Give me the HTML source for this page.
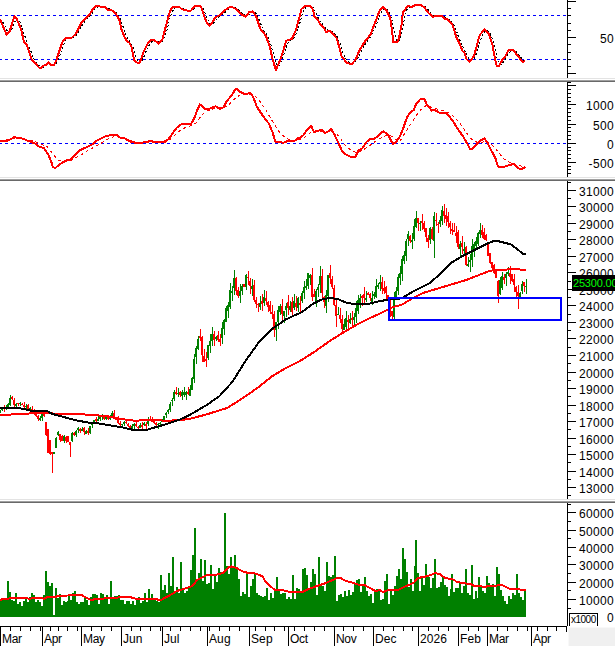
<!DOCTYPE html>
<html><head><meta charset="utf-8"><title>Chart</title>
<style>
html,body{margin:0;padding:0;background:#fff;}
body{width:615px;height:646px;overflow:hidden;}
svg{display:block;}
text{font-family:"Liberation Sans",Arial,sans-serif;}
</style></head><body>
<svg width="615" height="646" viewBox="0 0 615 646">
<rect width="615" height="646" fill="#fff"/>
<g shape-rendering="crispEdges">
<rect x="567" y="0" width="1" height="78" fill="#000"/>
<rect x="567" y="73" width="9" height="1" fill="#000"/>
<rect x="567" y="66" width="4" height="1" fill="#000"/>
<rect x="567" y="59" width="4" height="1" fill="#000"/>
<rect x="567" y="52" width="4" height="1" fill="#000"/>
<rect x="567" y="44" width="4" height="1" fill="#000"/>
<rect x="567" y="37" width="9" height="1" fill="#000"/>
<rect x="567" y="30" width="4" height="1" fill="#000"/>
<rect x="567" y="23" width="4" height="1" fill="#000"/>
<rect x="567" y="15" width="4" height="1" fill="#000"/>
<rect x="567" y="8" width="4" height="1" fill="#000"/>
<rect x="567" y="1" width="9" height="1" fill="#000"/>
<line x1="0" y1="15.5" x2="567" y2="15.5" stroke="#0000ff" stroke-width="1" stroke-dasharray="3 3" stroke-dashoffset="1"/>
<line x1="0" y1="59.5" x2="567" y2="59.5" stroke="#0000ff" stroke-width="1" stroke-dasharray="3 3" stroke-dashoffset="1"/>
<polyline points="0.0,19.2 1.0,20.0 2.0,20.8 3.0,22.4 4.0,23.9 5.0,26.3 6.0,28.7 7.0,30.5 8.0,31.7 9.0,32.3 10.0,32.2 11.0,30.9 12.0,29.0 13.0,26.4 14.0,23.8 15.0,21.5 16.0,19.6 17.0,19.0 18.0,19.0 19.0,20.2 20.0,22.1 21.0,24.3 22.0,27.3 23.0,30.3 24.0,34.0 25.0,36.5 26.0,39.7 27.0,42.0 28.0,44.8 29.0,46.6 30.0,49.0 31.0,51.5 32.0,54.4 33.0,56.8 34.0,59.0 35.0,60.7 36.0,62.2 37.0,63.3 38.0,64.3 39.0,65.4 40.0,66.2 41.0,66.9 42.0,67.1 43.0,67.2 44.0,66.8 45.0,66.3 46.0,65.8 47.0,65.0 48.0,64.3 49.0,63.8 50.0,63.7 51.0,63.8 52.0,63.9 53.0,64.3 54.0,64.6 55.0,64.4 56.0,63.8 57.0,62.2 58.0,60.4 59.0,57.8 60.0,55.2 61.0,52.2 62.0,49.2 63.0,46.5 64.0,44.1 65.0,42.0 66.0,40.3 67.0,39.2 68.0,38.5 69.0,38.1 70.0,37.8 71.0,37.8 72.0,37.7 73.0,37.4 74.0,37.0 75.0,36.3 76.0,35.4 77.0,34.2 78.0,32.7 79.0,31.1 80.0,29.3 81.0,27.4 82.0,25.6 83.0,24.0 84.0,22.5 85.0,21.2 86.0,20.1 87.0,19.1 88.0,18.1 89.0,17.1 90.0,15.9 91.0,14.7 92.0,13.4 93.0,12.0 94.0,10.6 95.0,9.3 96.0,8.1 97.0,7.2 98.0,6.7 99.0,6.3 100.0,6.2 101.0,6.2 102.0,6.3 103.0,6.4 104.0,6.5 105.0,6.7 106.0,7.0 107.0,7.5 108.0,8.1 109.0,8.7 110.0,9.3 111.0,9.7 112.0,10.1 113.0,10.6 114.0,11.0 115.0,11.7 116.0,12.4 117.0,13.5 118.0,14.8 119.0,16.2 120.0,18.2 121.0,20.8 122.0,23.6 123.0,26.5 124.0,29.6 125.0,32.6 126.0,35.2 127.0,37.3 128.0,39.0 129.0,40.4 130.0,41.7 131.0,43.1 132.0,44.8 133.0,47.5 134.0,50.8 135.0,53.7 136.0,56.7 137.0,59.2 138.0,61.5 139.0,62.1 140.0,62.3 141.0,61.6 142.0,60.6 143.0,58.6 144.0,56.6 145.0,54.0 146.0,51.6 147.0,49.3 148.0,47.1 149.0,45.5 150.0,43.8 151.0,42.4 152.0,41.3 153.0,40.7 154.0,40.4 155.0,40.2 156.0,40.5 157.0,41.0 158.0,41.6 159.0,42.0 160.0,42.2 161.0,42.1 162.0,41.6 163.0,40.4 164.0,38.4 165.0,35.9 166.0,32.9 167.0,29.7 168.0,25.8 169.0,22.1 170.0,18.4 171.0,15.4 172.0,12.5 173.0,10.5 174.0,8.8 175.0,8.1 176.0,7.5 177.0,7.3 178.0,7.3 179.0,7.3 180.0,7.4 181.0,7.7 182.0,8.1 183.0,8.4 184.0,8.8 185.0,9.2 186.0,9.7 187.0,9.9 188.0,10.2 189.0,10.4 190.0,10.6 191.0,10.7 192.0,10.4 193.0,9.9 194.0,9.1 195.0,8.4 196.0,7.5 197.0,6.8 198.0,6.2 199.0,6.0 200.0,5.9 201.0,6.3 202.0,7.0 203.0,8.6 204.0,10.4 205.0,12.8 206.0,15.3 207.0,18.0 208.0,20.3 209.0,22.1 210.0,23.4 211.0,24.1 212.0,24.2 213.0,23.6 214.0,22.7 215.0,21.1 216.0,19.8 217.0,18.5 218.0,17.5 219.0,16.6 220.0,16.0 221.0,15.4 222.0,14.8 223.0,14.1 224.0,13.3 225.0,12.3 226.0,11.4 227.0,10.5 228.0,9.7 229.0,8.9 230.0,8.2 231.0,7.7 232.0,7.4 233.0,7.2 234.0,7.4 235.0,7.5 236.0,8.1 237.0,8.7 238.0,9.4 239.0,10.2 240.0,11.1 241.0,12.1 242.0,13.0 243.0,13.8 244.0,14.6 245.0,15.3 246.0,15.6 247.0,15.5 248.0,15.2 249.0,14.5 250.0,13.8 251.0,12.9 252.0,12.2 253.0,11.9 254.0,12.1 255.0,12.6 256.0,13.6 257.0,15.1 258.0,17.1 259.0,19.5 260.0,22.0 261.0,24.5 262.0,26.9 263.0,28.8 264.0,30.7 265.0,32.1 266.0,33.4 267.0,35.2 268.0,37.1 269.0,39.4 270.0,41.8 271.0,45.2 272.0,48.7 273.0,52.4 274.0,56.0 275.0,59.9 276.0,63.4 277.0,64.9 278.0,66.1 279.0,65.6 280.0,64.9 281.0,62.4 282.0,59.9 283.0,57.2 284.0,54.3 285.0,51.3 286.0,48.0 287.0,45.6 288.0,43.3 289.0,41.7 290.0,40.4 291.0,39.9 292.0,39.5 293.0,38.6 294.0,37.6 295.0,36.0 296.0,34.3 297.0,31.6 298.0,28.8 299.0,25.6 300.0,22.5 301.0,18.7 302.0,15.4 303.0,12.5 304.0,10.2 305.0,8.4 306.0,7.2 307.0,6.7 308.0,6.4 309.0,6.2 310.0,6.2 311.0,6.4 312.0,6.9 313.0,7.6 314.0,9.6 315.0,11.3 316.0,13.6 317.0,15.3 318.0,17.6 319.0,19.4 320.0,20.7 321.0,21.9 322.0,23.4 323.0,24.8 324.0,26.0 325.0,27.4 326.0,28.9 327.0,29.7 328.0,30.6 329.0,30.9 330.0,31.7 331.0,31.6 332.0,31.8 333.0,32.2 334.0,33.1 335.0,34.1 336.0,35.2 337.0,36.6 338.0,38.5 339.0,40.7 340.0,43.3 341.0,46.5 342.0,49.7 343.0,52.7 344.0,55.2 345.0,57.5 346.0,59.3 347.0,60.6 348.0,61.5 349.0,62.4 350.0,63.0 351.0,63.4 352.0,63.6 353.0,63.3 354.0,63.0 355.0,62.3 356.0,61.3 357.0,59.8 358.0,58.0 359.0,56.1 360.0,53.9 361.0,51.8 362.0,49.7 363.0,47.9 364.0,46.1 365.0,44.5 366.0,43.1 367.0,41.6 368.0,40.3 369.0,38.9 370.0,37.6 371.0,36.2 372.0,34.4 373.0,32.5 374.0,30.3 375.0,28.0 376.0,25.4 377.0,22.7 378.0,20.1 379.0,17.5 380.0,15.1 381.0,13.0 382.0,11.1 383.0,9.6 384.0,8.7 385.0,8.4 386.0,8.7 387.0,9.1 388.0,10.4 389.0,11.9 390.0,13.7 391.0,16.7 392.0,20.4 393.0,26.3 394.0,29.9 395.0,35.1 396.0,38.1 397.0,41.3 398.0,41.6 399.0,40.7 400.0,38.5 401.0,35.8 402.0,31.3 403.0,25.8 404.0,21.3 405.0,16.4 406.0,13.3 407.0,9.6 408.0,8.3 409.0,7.6 410.0,6.9 411.0,6.8 412.0,6.5 413.0,6.5 414.0,6.4 415.0,6.2 416.0,5.9 417.0,5.5 418.0,5.2 419.0,5.0 420.0,4.9 421.0,5.0 422.0,5.2 423.0,5.6 424.0,6.0 425.0,6.6 426.0,7.5 427.0,8.5 428.0,9.6 429.0,10.8 430.0,12.1 431.0,13.2 432.0,14.3 433.0,15.1 434.0,15.7 435.0,16.1 436.0,16.3 437.0,16.4 438.0,16.4 439.0,16.3 440.0,16.2 441.0,16.1 442.0,16.1 443.0,16.3 444.0,16.6 445.0,17.2 446.0,17.6 447.0,18.2 448.0,19.0 449.0,19.7 450.0,20.4 451.0,21.2 452.0,22.2 453.0,23.4 454.0,25.3 455.0,27.3 456.0,30.0 457.0,32.4 458.0,35.4 459.0,37.9 460.0,40.5 461.0,42.7 462.0,45.0 463.0,47.1 464.0,48.9 465.0,51.1 466.0,53.1 467.0,55.2 468.0,56.7 469.0,58.5 470.0,59.7 471.0,60.3 472.0,60.1 473.0,59.6 474.0,58.7 475.0,56.6 476.0,54.5 477.0,51.6 478.0,48.7 479.0,45.0 480.0,41.5 481.0,38.7 482.0,36.1 483.0,34.1 484.0,32.3 485.0,31.4 486.0,31.0 487.0,30.9 488.0,31.1 489.0,32.0 490.0,33.6 491.0,35.6 492.0,37.9 493.0,41.0 494.0,44.8 495.0,49.1 496.0,53.3 497.0,57.6 498.0,60.7 499.0,63.5 500.0,64.2 501.0,64.6 502.0,63.5 503.0,62.4 504.0,60.8 505.0,59.4 506.0,57.8 507.0,56.2 508.0,54.6 509.0,53.1 510.0,51.8 511.0,50.7 512.0,50.1 513.0,49.7 514.0,50.1 515.0,50.6 516.0,51.4 517.0,52.3 518.0,53.6 519.0,54.8 520.0,56.1 521.0,57.4 522.0,58.7 523.0,59.7 524.0,60.5 525.0,60.9" fill="none" stroke="#000" stroke-width="1" stroke-dasharray="2 2"/>
<polyline points="0.0,19.2 6.5,34.6 9.8,30.9 14.3,16.3 16.3,17.9 21.1,29.3 24.0,42.0 26.8,44.7 31.7,59.8 39.0,67.5 40.7,68.0 44.7,65.0 46.3,64.7 48.5,62.1 51.2,65.0 53.7,65.5 56.1,61.0 59.3,51.2 62.6,41.5 65.9,37.7 71.5,37.9 75.6,34.1 81.3,22.8 84.6,19.5 89.4,14.6 93.5,8.1 96.7,5.7 100.0,6.5 104.1,6.5 108.1,9.8 112.2,10.6 116.3,14.6 119.5,20.3 121.5,29.3 124.4,36.6 126.8,41.0 129.3,42.6 131.7,47.2 134.1,60.2 138.2,63.4 139.8,62.6 143.6,52.0 148.0,43.1 151.2,39.8 154.5,40.2 158.5,43.6 162.6,39.0 165.9,26.0 169.9,11.4 172.4,7.3 179.7,7.3 182.1,9.4 185.4,9.8 188.6,11.1 191.1,10.6 194.3,6.5 197.6,5.7 200.0,5.8 201.6,8.1 204.1,16.3 207.3,23.6 209.8,25.7 212.2,22.8 215.4,17.1 220.3,15.0 226.0,9.4 230.9,6.5 235.8,8.9 241.5,14.6 245.5,16.6 249.6,11.7 252.8,11.4 256.1,16.3 260.2,28.5 265.9,35.8 269.9,47.2 272.4,58.5 275.9,69.9 279.7,61.0 282.9,52.0 286.2,40.7 291.9,39.0 295.9,30.1 299.2,17.9 300.0,15.4 301.6,8.9 304.6,6.2 310.6,6.2 313.0,9.8 314.6,17.1 317.1,18.7 320.3,24.4 324.4,28.5 326.0,32.5 329.3,30.6 332.5,33.3 336.6,38.2 339.8,48.8 341.5,56.1 347.2,63.4 352.0,63.7 355.3,60.2 360.2,48.8 365.0,41.5 370.7,34.1 375.6,21.1 379.7,10.6 383.3,6.8 387.0,11.4 390.2,17.9 391.9,29.3 393.2,42.0 397.6,42.0 399.2,37.4 400.0,32.5 401.6,24.4 402.9,12.2 408.1,5.7 411.4,7.3 415.4,4.9 420.3,4.9 424.4,7.3 428.5,13.0 432.5,16.6 442.3,15.9 444.7,18.7 447.2,19.2 452.8,25.2 456.1,36.6 459.3,43.1 462.6,51.2 464.2,52.4 466.7,59.3 469.6,61.8 474.0,56.1 476.4,47.2 479.7,35.0 484.6,29.3 488.6,33.3 492.4,44.7 494.9,58.5 496.8,65.9 498.9,65.9 502.2,60.2 505.4,56.1 508.7,49.6 512.8,49.6 516.8,54.5 521.7,61.0 523.3,61.8 525.0,61.0" fill="none" stroke="#ff0000" stroke-width="2" stroke-linejoin="round"/>
<rect x="0" y="78" width="615" height="1" fill="#e3e3e3"/>
<rect x="0" y="79" width="615" height="1" fill="#ffffff"/>
<rect x="0" y="80" width="615" height="1" fill="#a0a0a0"/>
<rect x="0" y="81" width="615" height="1" fill="#696969"/>
<rect x="567" y="82" width="1" height="95" fill="#000"/>
<rect x="567" y="82" width="4" height="1" fill="#000"/>
<rect x="567" y="173" width="4" height="1" fill="#000"/>
<rect x="567" y="169" width="4" height="1" fill="#000"/>
<rect x="567" y="166" width="4" height="1" fill="#000"/>
<rect x="567" y="162" width="9" height="1" fill="#000"/>
<rect x="567" y="158" width="4" height="1" fill="#000"/>
<rect x="567" y="154" width="4" height="1" fill="#000"/>
<rect x="567" y="150" width="4" height="1" fill="#000"/>
<rect x="567" y="147" width="4" height="1" fill="#000"/>
<rect x="567" y="143" width="9" height="1" fill="#000"/>
<rect x="567" y="139" width="4" height="1" fill="#000"/>
<rect x="567" y="135" width="4" height="1" fill="#000"/>
<rect x="567" y="131" width="4" height="1" fill="#000"/>
<rect x="567" y="127" width="4" height="1" fill="#000"/>
<rect x="567" y="124" width="9" height="1" fill="#000"/>
<rect x="567" y="120" width="4" height="1" fill="#000"/>
<rect x="567" y="116" width="4" height="1" fill="#000"/>
<rect x="567" y="112" width="4" height="1" fill="#000"/>
<rect x="567" y="108" width="4" height="1" fill="#000"/>
<rect x="567" y="104" width="9" height="1" fill="#000"/>
<rect x="567" y="101" width="4" height="1" fill="#000"/>
<rect x="567" y="97" width="4" height="1" fill="#000"/>
<rect x="567" y="93" width="4" height="1" fill="#000"/>
<rect x="567" y="89" width="4" height="1" fill="#000"/>
<rect x="567" y="85" width="9" height="1" fill="#000"/>
<line x1="0" y1="143.5" x2="567" y2="143.5" stroke="#0000ff" stroke-width="1" stroke-dasharray="3 3" stroke-dashoffset="1"/>
<polyline points="0.0,141.0 13.8,138.5 24.4,138.9 35.0,141.5 47.2,146.7 52.8,154.0 58.5,160.5 65.0,161.3 71.5,160.0 81.3,154.8 87.8,150.7 94.3,147.0 100.0,144.2 103.3,141.8 109.8,137.7 116.3,136.1 124.4,137.7 129.3,140.2 137.4,143.0 148.8,142.1 165.0,142.3 171.5,138.5 178.0,132.0 184.6,128.0 191.1,125.5 195.9,123.1 200.0,117.4 204.9,111.7 209.8,110.1 216.3,107.6 222.8,108.0 229.3,104.4 235.0,98.7 239.8,95.0 247.2,93.8 253.7,94.6 258.5,99.5 265.0,108.5 271.5,119.8 278.0,130.4 284.6,136.9 291.1,141.0 300.0,139.3 304.9,136.9 311.4,132.0 317.9,130.7 326.0,131.7 332.5,131.2 339.0,136.1 344.7,145.0 350.4,149.9 356.1,152.4 361.8,150.7 368.3,146.7 374.8,141.8 381.3,137.7 387.8,134.5 392.7,136.9 397.6,141.0 400.0,141.0 404.1,134.5 408.1,128.0 413.0,120.7 417.9,113.3 422.8,107.6 426.8,105.2 432.5,107.6 439.0,109.6 444.7,110.9 450.4,113.3 456.1,119.0 461.0,124.7 465.9,132.0 469.9,137.7 474.8,141.8 481.3,142.6 486.2,141.0 491.1,144.2 495.9,149.1 497.9,151.5 502.8,158.0 507.6,161.3 512.5,163.7 519.0,165.4 525.5,167.8" fill="none" stroke="#ff0000" stroke-width="1" stroke-dasharray="3 3"/>
<polyline points="0.0,141.0 7.3,141.0 13.8,137.4 20.3,137.7 28.5,141.0 35.0,143.4 39.8,147.0 43.9,148.0 48.0,154.0 51.2,161.3 52.8,167.0 55.3,168.1 59.3,164.6 65.9,160.5 70.7,159.7 75.6,154.5 80.5,149.9 87.0,147.0 92.7,144.2 95.9,141.0 100.0,138.9 105.7,136.1 113.8,134.5 117.1,135.3 120.3,137.7 124.4,138.2 130.1,141.5 138.2,143.4 144.7,142.1 150.4,141.0 156.9,142.1 163.4,142.1 168.3,139.3 172.4,133.7 176.4,128.0 181.3,124.2 191.1,123.9 194.3,118.2 197.6,109.3 200.0,104.4 201.6,105.2 204.9,108.9 209.8,108.5 215.4,106.3 220.3,108.9 223.6,107.3 226.8,101.1 231.7,95.4 235.0,89.8 237.1,88.9 239.8,91.7 244.7,93.8 250.4,93.3 252.8,96.3 256.9,106.8 263.4,116.6 269.1,123.9 272.4,132.0 275.6,142.1 283.7,142.6 287.8,141.0 293.5,141.5 297.6,138.5 300.0,137.7 303.3,135.3 307.3,129.6 311.4,125.9 313.8,132.0 317.9,130.7 322.0,130.1 325.2,132.8 327.6,132.0 330.9,128.8 334.1,133.7 338.2,142.6 342.3,151.5 346.3,154.8 350.4,156.7 355.3,156.7 358.5,150.7 362.6,148.0 366.7,141.8 370.7,138.5 374.8,138.5 379.7,134.5 383.3,131.2 388.6,135.3 391.1,141.0 393.0,143.7 395.9,142.6 400.0,136.1 403.3,128.0 407.3,116.6 410.6,112.2 413.8,110.1 416.3,103.6 420.3,99.2 424.4,99.2 426.8,104.4 431.7,110.6 435.0,110.1 439.0,112.5 446.3,112.8 452.0,119.8 457.7,128.8 463.4,136.9 467.5,144.2 470.2,149.1 472.4,148.6 477.2,144.2 480.5,140.5 484.6,138.5 487.3,142.6 491.4,150.7 495.4,158.0 497.1,164.6 498.7,167.0 505.2,166.5 510.1,164.9 514.1,163.7 516.6,166.2 519.0,168.6 522.3,168.6 525.5,167.0" fill="none" stroke="#ff0000" stroke-width="2" stroke-linejoin="round"/>
<rect x="0" y="177" width="615" height="1" fill="#e3e3e3"/>
<rect x="0" y="178" width="615" height="1" fill="#ffffff"/>
<rect x="0" y="179" width="615" height="1" fill="#a0a0a0"/>
<rect x="0" y="180" width="615" height="1" fill="#696969"/>
<rect x="567" y="181" width="1" height="318" fill="#000"/>
<rect x="567" y="495" width="4" height="1" fill="#000"/>
<rect x="567" y="487" width="9" height="1" fill="#000"/>
<rect x="567" y="479" width="4" height="1" fill="#000"/>
<rect x="567" y="471" width="9" height="1" fill="#000"/>
<rect x="567" y="462" width="4" height="1" fill="#000"/>
<rect x="567" y="454" width="9" height="1" fill="#000"/>
<rect x="567" y="446" width="4" height="1" fill="#000"/>
<rect x="567" y="438" width="9" height="1" fill="#000"/>
<rect x="567" y="429" width="4" height="1" fill="#000"/>
<rect x="567" y="421" width="9" height="1" fill="#000"/>
<rect x="567" y="413" width="4" height="1" fill="#000"/>
<rect x="567" y="405" width="9" height="1" fill="#000"/>
<rect x="567" y="396" width="4" height="1" fill="#000"/>
<rect x="567" y="388" width="9" height="1" fill="#000"/>
<rect x="567" y="380" width="4" height="1" fill="#000"/>
<rect x="567" y="372" width="9" height="1" fill="#000"/>
<rect x="567" y="363" width="4" height="1" fill="#000"/>
<rect x="567" y="355" width="9" height="1" fill="#000"/>
<rect x="567" y="347" width="4" height="1" fill="#000"/>
<rect x="567" y="338" width="9" height="1" fill="#000"/>
<rect x="567" y="330" width="4" height="1" fill="#000"/>
<rect x="567" y="322" width="9" height="1" fill="#000"/>
<rect x="567" y="314" width="4" height="1" fill="#000"/>
<rect x="567" y="305" width="9" height="1" fill="#000"/>
<rect x="567" y="297" width="4" height="1" fill="#000"/>
<rect x="567" y="289" width="9" height="1" fill="#000"/>
<rect x="567" y="281" width="4" height="1" fill="#000"/>
<rect x="567" y="272" width="9" height="1" fill="#000"/>
<rect x="567" y="264" width="4" height="1" fill="#000"/>
<rect x="567" y="256" width="9" height="1" fill="#000"/>
<rect x="567" y="248" width="4" height="1" fill="#000"/>
<rect x="567" y="239" width="9" height="1" fill="#000"/>
<rect x="567" y="231" width="4" height="1" fill="#000"/>
<rect x="567" y="223" width="9" height="1" fill="#000"/>
<rect x="567" y="215" width="4" height="1" fill="#000"/>
<rect x="567" y="206" width="9" height="1" fill="#000"/>
<rect x="567" y="198" width="4" height="1" fill="#000"/>
<rect x="567" y="190" width="9" height="1" fill="#000"/>
<rect x="567" y="182" width="4" height="1" fill="#000"/>
<rect x="-1" y="411" width="2" height="2" fill="#008000"/>
<rect x="0" y="410" width="1" height="3" fill="#008000"/>
<rect x="1" y="408" width="2" height="2" fill="#008000"/>
<rect x="2" y="408" width="1" height="3" fill="#008000"/>
<rect x="3" y="408" width="2" height="1" fill="#ff0000"/>
<rect x="4" y="405" width="1" height="7" fill="#ff0000"/>
<rect x="5" y="407" width="2" height="1" fill="#008000"/>
<rect x="6" y="405" width="1" height="5" fill="#008000"/>
<rect x="7" y="404" width="2" height="3" fill="#008000"/>
<rect x="8" y="403" width="1" height="5" fill="#008000"/>
<rect x="9" y="398" width="2" height="7" fill="#008000"/>
<rect x="10" y="395" width="1" height="11" fill="#008000"/>
<rect x="11" y="397" width="2" height="2" fill="#ff0000"/>
<rect x="12" y="396" width="1" height="4" fill="#ff0000"/>
<rect x="13" y="400" width="2" height="5" fill="#ff0000"/>
<rect x="14" y="398" width="1" height="9" fill="#ff0000"/>
<rect x="15" y="404" width="2" height="2" fill="#008000"/>
<rect x="16" y="403" width="1" height="5" fill="#008000"/>
<rect x="17" y="403" width="2" height="1" fill="#ff0000"/>
<rect x="18" y="403" width="1" height="3" fill="#ff0000"/>
<rect x="19" y="403" width="2" height="1" fill="#008000"/>
<rect x="20" y="402" width="1" height="4" fill="#008000"/>
<rect x="21" y="404" width="2" height="1" fill="#ff0000"/>
<rect x="22" y="403" width="1" height="2" fill="#ff0000"/>
<rect x="23" y="405" width="2" height="2" fill="#ff0000"/>
<rect x="24" y="402" width="1" height="8" fill="#ff0000"/>
<rect x="25" y="406" width="2" height="1" fill="#008000"/>
<rect x="26" y="404" width="1" height="5" fill="#008000"/>
<rect x="27" y="405" width="2" height="5" fill="#ff0000"/>
<rect x="28" y="404" width="1" height="7" fill="#ff0000"/>
<rect x="29" y="408" width="2" height="2" fill="#008000"/>
<rect x="30" y="407" width="1" height="4" fill="#008000"/>
<rect x="31" y="409" width="2" height="2" fill="#ff0000"/>
<rect x="32" y="406" width="1" height="6" fill="#ff0000"/>
<rect x="33" y="411" width="2" height="1" fill="#ff0000"/>
<rect x="34" y="409" width="1" height="6" fill="#ff0000"/>
<rect x="35" y="413" width="2" height="3" fill="#ff0000"/>
<rect x="36" y="412" width="1" height="5" fill="#ff0000"/>
<rect x="37" y="416" width="2" height="3" fill="#ff0000"/>
<rect x="38" y="415" width="1" height="6" fill="#ff0000"/>
<rect x="39" y="418" width="2" height="2" fill="#008000"/>
<rect x="40" y="416" width="1" height="5" fill="#008000"/>
<rect x="41" y="414" width="2" height="4" fill="#008000"/>
<rect x="42" y="412" width="1" height="9" fill="#008000"/>
<rect x="43" y="414" width="2" height="2" fill="#ff0000"/>
<rect x="44" y="413" width="1" height="4" fill="#ff0000"/>
<rect x="45" y="422" width="2" height="13" fill="#ff0000"/>
<rect x="46" y="422" width="1" height="14" fill="#ff0000"/>
<rect x="47" y="429" width="2" height="24" fill="#ff0000"/>
<rect x="48" y="429" width="1" height="24" fill="#ff0000"/>
<rect x="49" y="440" width="2" height="14" fill="#ff0000"/>
<rect x="50" y="440" width="1" height="15" fill="#ff0000"/>
<rect x="51" y="452" width="2" height="2" fill="#ff0000"/>
<rect x="52" y="452" width="1" height="21" fill="#ff0000"/>
<rect x="53" y="452" width="2" height="2" fill="#008000"/>
<rect x="54" y="452" width="1" height="2" fill="#008000"/>
<rect x="55" y="438" width="2" height="10" fill="#008000"/>
<rect x="56" y="437" width="1" height="10" fill="#008000"/>
<rect x="57" y="432" width="2" height="3" fill="#008000"/>
<rect x="58" y="431" width="1" height="5" fill="#008000"/>
<rect x="59" y="434" width="2" height="6" fill="#ff0000"/>
<rect x="60" y="434" width="1" height="8" fill="#ff0000"/>
<rect x="61" y="436" width="2" height="5" fill="#ff0000"/>
<rect x="62" y="435" width="1" height="6" fill="#ff0000"/>
<rect x="63" y="436" width="2" height="5" fill="#008000"/>
<rect x="64" y="435" width="1" height="8" fill="#008000"/>
<rect x="65" y="437" width="2" height="4" fill="#ff0000"/>
<rect x="66" y="436" width="1" height="7" fill="#ff0000"/>
<rect x="67" y="436" width="2" height="6" fill="#ff0000"/>
<rect x="68" y="436" width="1" height="6" fill="#ff0000"/>
<rect x="69" y="442" width="2" height="3" fill="#ff0000"/>
<rect x="70" y="442" width="1" height="15" fill="#ff0000"/>
<rect x="71" y="433" width="2" height="8" fill="#008000"/>
<rect x="72" y="432" width="1" height="10" fill="#008000"/>
<rect x="73" y="433" width="2" height="2" fill="#ff0000"/>
<rect x="74" y="432" width="1" height="4" fill="#ff0000"/>
<rect x="75" y="431" width="2" height="4" fill="#008000"/>
<rect x="76" y="430" width="1" height="7" fill="#008000"/>
<rect x="77" y="428" width="2" height="2" fill="#008000"/>
<rect x="78" y="427" width="1" height="6" fill="#008000"/>
<rect x="79" y="429" width="2" height="2" fill="#ff0000"/>
<rect x="80" y="428" width="1" height="5" fill="#ff0000"/>
<rect x="81" y="429" width="2" height="2" fill="#008000"/>
<rect x="82" y="427" width="1" height="3" fill="#008000"/>
<rect x="83" y="428" width="2" height="4" fill="#ff0000"/>
<rect x="84" y="427" width="1" height="8" fill="#ff0000"/>
<rect x="85" y="431" width="2" height="3" fill="#008000"/>
<rect x="86" y="430" width="1" height="4" fill="#008000"/>
<rect x="87" y="431" width="2" height="2" fill="#ff0000"/>
<rect x="88" y="428" width="1" height="7" fill="#ff0000"/>
<rect x="89" y="426" width="2" height="7" fill="#008000"/>
<rect x="90" y="426" width="1" height="8" fill="#008000"/>
<rect x="91" y="422" width="2" height="3" fill="#008000"/>
<rect x="92" y="422" width="1" height="6" fill="#008000"/>
<rect x="93" y="420" width="2" height="2" fill="#008000"/>
<rect x="94" y="420" width="1" height="4" fill="#008000"/>
<rect x="95" y="419" width="2" height="2" fill="#ff0000"/>
<rect x="96" y="417" width="1" height="5" fill="#ff0000"/>
<rect x="97" y="419" width="2" height="2" fill="#008000"/>
<rect x="98" y="416" width="1" height="5" fill="#008000"/>
<rect x="99" y="417" width="2" height="2" fill="#008000"/>
<rect x="100" y="415" width="1" height="6" fill="#008000"/>
<rect x="101" y="415" width="2" height="2" fill="#008000"/>
<rect x="102" y="414" width="1" height="6" fill="#008000"/>
<rect x="103" y="415" width="2" height="4" fill="#ff0000"/>
<rect x="104" y="415" width="1" height="5" fill="#ff0000"/>
<rect x="105" y="417" width="2" height="2" fill="#008000"/>
<rect x="106" y="416" width="1" height="4" fill="#008000"/>
<rect x="107" y="417" width="2" height="2" fill="#ff0000"/>
<rect x="108" y="416" width="1" height="4" fill="#ff0000"/>
<rect x="109" y="417" width="2" height="2" fill="#008000"/>
<rect x="110" y="415" width="1" height="5" fill="#008000"/>
<rect x="111" y="413" width="2" height="4" fill="#008000"/>
<rect x="112" y="411" width="1" height="7" fill="#008000"/>
<rect x="113" y="413" width="2" height="4" fill="#ff0000"/>
<rect x="114" y="410" width="1" height="7" fill="#ff0000"/>
<rect x="115" y="417" width="2" height="3" fill="#ff0000"/>
<rect x="116" y="417" width="1" height="3" fill="#ff0000"/>
<rect x="117" y="419" width="2" height="4" fill="#ff0000"/>
<rect x="118" y="416" width="1" height="8" fill="#ff0000"/>
<rect x="119" y="423" width="2" height="2" fill="#ff0000"/>
<rect x="120" y="421" width="1" height="6" fill="#ff0000"/>
<rect x="121" y="424" width="2" height="1" fill="#008000"/>
<rect x="122" y="424" width="1" height="4" fill="#008000"/>
<rect x="123" y="422" width="2" height="2" fill="#008000"/>
<rect x="124" y="421" width="1" height="5" fill="#008000"/>
<rect x="125" y="422" width="2" height="1" fill="#ff0000"/>
<rect x="126" y="420" width="1" height="4" fill="#ff0000"/>
<rect x="127" y="424" width="2" height="2" fill="#ff0000"/>
<rect x="128" y="423" width="1" height="4" fill="#ff0000"/>
<rect x="129" y="426" width="2" height="2" fill="#ff0000"/>
<rect x="130" y="425" width="1" height="4" fill="#ff0000"/>
<rect x="131" y="426" width="2" height="2" fill="#008000"/>
<rect x="132" y="424" width="1" height="6" fill="#008000"/>
<rect x="133" y="424" width="2" height="2" fill="#008000"/>
<rect x="134" y="423" width="1" height="7" fill="#008000"/>
<rect x="135" y="424" width="2" height="2" fill="#ff0000"/>
<rect x="136" y="421" width="1" height="6" fill="#ff0000"/>
<rect x="137" y="427" width="2" height="1" fill="#ff0000"/>
<rect x="138" y="426" width="1" height="4" fill="#ff0000"/>
<rect x="139" y="425" width="2" height="3" fill="#008000"/>
<rect x="140" y="423" width="1" height="5" fill="#008000"/>
<rect x="141" y="425" width="2" height="2" fill="#ff0000"/>
<rect x="142" y="422" width="1" height="7" fill="#ff0000"/>
<rect x="143" y="423" width="2" height="2" fill="#008000"/>
<rect x="144" y="422" width="1" height="4" fill="#008000"/>
<rect x="145" y="424" width="2" height="2" fill="#ff0000"/>
<rect x="146" y="422" width="1" height="7" fill="#ff0000"/>
<rect x="147" y="419" width="2" height="5" fill="#008000"/>
<rect x="148" y="417" width="1" height="9" fill="#008000"/>
<rect x="149" y="419" width="2" height="1" fill="#ff0000"/>
<rect x="150" y="416" width="1" height="5" fill="#ff0000"/>
<rect x="151" y="420" width="2" height="2" fill="#ff0000"/>
<rect x="152" y="417" width="1" height="5" fill="#ff0000"/>
<rect x="153" y="421" width="2" height="2" fill="#ff0000"/>
<rect x="154" y="421" width="1" height="3" fill="#ff0000"/>
<rect x="155" y="423" width="2" height="2" fill="#ff0000"/>
<rect x="156" y="422" width="1" height="6" fill="#ff0000"/>
<rect x="157" y="424" width="2" height="1" fill="#008000"/>
<rect x="158" y="423" width="1" height="6" fill="#008000"/>
<rect x="159" y="423" width="2" height="1" fill="#008000"/>
<rect x="160" y="422" width="1" height="3" fill="#008000"/>
<rect x="161" y="420" width="2" height="2" fill="#008000"/>
<rect x="162" y="419" width="1" height="3" fill="#008000"/>
<rect x="163" y="416" width="2" height="4" fill="#008000"/>
<rect x="164" y="416" width="1" height="5" fill="#008000"/>
<rect x="165" y="413" width="2" height="2" fill="#008000"/>
<rect x="166" y="412" width="1" height="6" fill="#008000"/>
<rect x="167" y="410" width="2" height="2" fill="#008000"/>
<rect x="168" y="409" width="1" height="5" fill="#008000"/>
<rect x="169" y="404" width="2" height="6" fill="#008000"/>
<rect x="170" y="402" width="1" height="10" fill="#008000"/>
<rect x="171" y="400" width="2" height="1" fill="#008000"/>
<rect x="172" y="398" width="1" height="8" fill="#008000"/>
<rect x="173" y="392" width="2" height="7" fill="#008000"/>
<rect x="174" y="390" width="1" height="11" fill="#008000"/>
<rect x="175" y="392" width="2" height="2" fill="#ff0000"/>
<rect x="176" y="387" width="1" height="8" fill="#ff0000"/>
<rect x="177" y="393" width="2" height="1" fill="#008000"/>
<rect x="178" y="388" width="1" height="9" fill="#008000"/>
<rect x="179" y="392" width="2" height="3" fill="#ff0000"/>
<rect x="180" y="391" width="1" height="6" fill="#ff0000"/>
<rect x="181" y="392" width="2" height="4" fill="#008000"/>
<rect x="182" y="390" width="1" height="10" fill="#008000"/>
<rect x="183" y="392" width="2" height="3" fill="#008000"/>
<rect x="184" y="387" width="1" height="10" fill="#008000"/>
<rect x="185" y="392" width="2" height="3" fill="#008000"/>
<rect x="186" y="391" width="1" height="9" fill="#008000"/>
<rect x="187" y="392" width="2" height="2" fill="#ff0000"/>
<rect x="188" y="387" width="1" height="8" fill="#ff0000"/>
<rect x="189" y="389" width="2" height="7" fill="#008000"/>
<rect x="190" y="385" width="1" height="11" fill="#008000"/>
<rect x="191" y="378" width="2" height="12" fill="#008000"/>
<rect x="192" y="377" width="1" height="13" fill="#008000"/>
<rect x="193" y="359" width="2" height="20" fill="#008000"/>
<rect x="194" y="354" width="1" height="29" fill="#008000"/>
<rect x="195" y="348" width="2" height="9" fill="#008000"/>
<rect x="196" y="346" width="1" height="18" fill="#008000"/>
<rect x="197" y="339" width="2" height="10" fill="#008000"/>
<rect x="198" y="336" width="1" height="14" fill="#008000"/>
<rect x="199" y="336" width="2" height="2" fill="#ff0000"/>
<rect x="200" y="329" width="1" height="12" fill="#ff0000"/>
<rect x="201" y="337" width="2" height="18" fill="#ff0000"/>
<rect x="202" y="336" width="1" height="26" fill="#ff0000"/>
<rect x="203" y="356" width="2" height="6" fill="#ff0000"/>
<rect x="204" y="349" width="1" height="13" fill="#ff0000"/>
<rect x="205" y="359" width="2" height="2" fill="#ff0000"/>
<rect x="206" y="352" width="1" height="15" fill="#ff0000"/>
<rect x="207" y="345" width="2" height="13" fill="#008000"/>
<rect x="208" y="345" width="1" height="15" fill="#008000"/>
<rect x="209" y="341" width="2" height="5" fill="#008000"/>
<rect x="210" y="334" width="1" height="19" fill="#008000"/>
<rect x="211" y="334" width="2" height="7" fill="#008000"/>
<rect x="212" y="327" width="1" height="19" fill="#008000"/>
<rect x="213" y="334" width="2" height="6" fill="#ff0000"/>
<rect x="214" y="331" width="1" height="15" fill="#ff0000"/>
<rect x="215" y="337" width="2" height="2" fill="#008000"/>
<rect x="216" y="336" width="1" height="5" fill="#008000"/>
<rect x="217" y="335" width="2" height="5" fill="#ff0000"/>
<rect x="218" y="331" width="1" height="11" fill="#ff0000"/>
<rect x="219" y="339" width="2" height="3" fill="#ff0000"/>
<rect x="220" y="334" width="1" height="12" fill="#ff0000"/>
<rect x="221" y="328" width="2" height="10" fill="#008000"/>
<rect x="222" y="322" width="1" height="22" fill="#008000"/>
<rect x="223" y="320" width="2" height="9" fill="#008000"/>
<rect x="224" y="319" width="1" height="16" fill="#008000"/>
<rect x="225" y="308" width="2" height="14" fill="#008000"/>
<rect x="226" y="306" width="1" height="16" fill="#008000"/>
<rect x="227" y="305" width="2" height="6" fill="#008000"/>
<rect x="228" y="302" width="1" height="16" fill="#008000"/>
<rect x="229" y="290" width="2" height="17" fill="#008000"/>
<rect x="230" y="283" width="1" height="26" fill="#008000"/>
<rect x="231" y="291" width="2" height="2" fill="#008000"/>
<rect x="232" y="286" width="1" height="15" fill="#008000"/>
<rect x="233" y="278" width="2" height="10" fill="#008000"/>
<rect x="234" y="270" width="1" height="25" fill="#008000"/>
<rect x="235" y="278" width="2" height="13" fill="#ff0000"/>
<rect x="236" y="277" width="1" height="18" fill="#ff0000"/>
<rect x="237" y="290" width="2" height="6" fill="#ff0000"/>
<rect x="238" y="287" width="1" height="11" fill="#ff0000"/>
<rect x="239" y="291" width="2" height="5" fill="#008000"/>
<rect x="240" y="284" width="1" height="19" fill="#008000"/>
<rect x="241" y="286" width="2" height="5" fill="#008000"/>
<rect x="242" y="284" width="1" height="11" fill="#008000"/>
<rect x="243" y="284" width="2" height="3" fill="#ff0000"/>
<rect x="244" y="284" width="1" height="3" fill="#ff0000"/>
<rect x="245" y="275" width="2" height="12" fill="#008000"/>
<rect x="246" y="274" width="1" height="16" fill="#008000"/>
<rect x="247" y="277" width="2" height="1" fill="#ff0000"/>
<rect x="248" y="271" width="1" height="14" fill="#ff0000"/>
<rect x="249" y="281" width="2" height="5" fill="#ff0000"/>
<rect x="250" y="278" width="1" height="16" fill="#ff0000"/>
<rect x="251" y="286" width="2" height="3" fill="#008000"/>
<rect x="252" y="279" width="1" height="17" fill="#008000"/>
<rect x="253" y="285" width="2" height="15" fill="#ff0000"/>
<rect x="254" y="280" width="1" height="22" fill="#ff0000"/>
<rect x="255" y="300" width="2" height="4" fill="#ff0000"/>
<rect x="256" y="297" width="1" height="11" fill="#ff0000"/>
<rect x="257" y="304" width="2" height="1" fill="#ff0000"/>
<rect x="258" y="303" width="1" height="9" fill="#ff0000"/>
<rect x="259" y="303" width="2" height="4" fill="#008000"/>
<rect x="260" y="296" width="1" height="14" fill="#008000"/>
<rect x="261" y="301" width="2" height="3" fill="#ff0000"/>
<rect x="262" y="294" width="1" height="17" fill="#ff0000"/>
<rect x="263" y="297" width="2" height="6" fill="#008000"/>
<rect x="264" y="290" width="1" height="16" fill="#008000"/>
<rect x="265" y="298" width="2" height="3" fill="#ff0000"/>
<rect x="266" y="291" width="1" height="14" fill="#ff0000"/>
<rect x="267" y="302" width="2" height="5" fill="#ff0000"/>
<rect x="268" y="301" width="1" height="11" fill="#ff0000"/>
<rect x="269" y="305" width="2" height="6" fill="#ff0000"/>
<rect x="270" y="301" width="1" height="13" fill="#ff0000"/>
<rect x="271" y="312" width="2" height="2" fill="#ff0000"/>
<rect x="272" y="305" width="1" height="14" fill="#ff0000"/>
<rect x="273" y="314" width="2" height="16" fill="#ff0000"/>
<rect x="274" y="311" width="1" height="26" fill="#ff0000"/>
<rect x="275" y="322" width="2" height="8" fill="#008000"/>
<rect x="276" y="322" width="1" height="19" fill="#008000"/>
<rect x="277" y="310" width="2" height="12" fill="#008000"/>
<rect x="278" y="306" width="1" height="23" fill="#008000"/>
<rect x="279" y="306" width="2" height="6" fill="#008000"/>
<rect x="280" y="304" width="1" height="11" fill="#008000"/>
<rect x="281" y="306" width="2" height="8" fill="#ff0000"/>
<rect x="282" y="299" width="1" height="22" fill="#ff0000"/>
<rect x="283" y="311" width="2" height="5" fill="#008000"/>
<rect x="284" y="311" width="1" height="12" fill="#008000"/>
<rect x="285" y="306" width="2" height="4" fill="#008000"/>
<rect x="286" y="303" width="1" height="14" fill="#008000"/>
<rect x="287" y="302" width="2" height="6" fill="#ff0000"/>
<rect x="288" y="295" width="1" height="20" fill="#ff0000"/>
<rect x="289" y="306" width="2" height="4" fill="#008000"/>
<rect x="290" y="301" width="1" height="11" fill="#008000"/>
<rect x="291" y="302" width="2" height="10" fill="#ff0000"/>
<rect x="292" y="297" width="1" height="20" fill="#ff0000"/>
<rect x="293" y="301" width="2" height="7" fill="#008000"/>
<rect x="294" y="294" width="1" height="16" fill="#008000"/>
<rect x="295" y="303" width="2" height="4" fill="#ff0000"/>
<rect x="296" y="296" width="1" height="15" fill="#ff0000"/>
<rect x="297" y="298" width="2" height="10" fill="#008000"/>
<rect x="298" y="297" width="1" height="15" fill="#008000"/>
<rect x="299" y="303" width="2" height="2" fill="#ff0000"/>
<rect x="300" y="296" width="1" height="16" fill="#ff0000"/>
<rect x="301" y="293" width="2" height="8" fill="#008000"/>
<rect x="302" y="291" width="1" height="12" fill="#008000"/>
<rect x="303" y="287" width="2" height="6" fill="#008000"/>
<rect x="304" y="281" width="1" height="18" fill="#008000"/>
<rect x="305" y="286" width="2" height="2" fill="#008000"/>
<rect x="306" y="279" width="1" height="11" fill="#008000"/>
<rect x="307" y="273" width="2" height="13" fill="#008000"/>
<rect x="308" y="273" width="1" height="16" fill="#008000"/>
<rect x="309" y="275" width="2" height="3" fill="#008000"/>
<rect x="310" y="274" width="1" height="11" fill="#008000"/>
<rect x="311" y="275" width="2" height="22" fill="#ff0000"/>
<rect x="312" y="268" width="1" height="33" fill="#ff0000"/>
<rect x="313" y="294" width="2" height="3" fill="#ff0000"/>
<rect x="314" y="289" width="1" height="8" fill="#ff0000"/>
<rect x="315" y="291" width="2" height="11" fill="#008000"/>
<rect x="316" y="289" width="1" height="18" fill="#008000"/>
<rect x="317" y="287" width="2" height="3" fill="#008000"/>
<rect x="318" y="284" width="1" height="13" fill="#008000"/>
<rect x="319" y="276" width="2" height="9" fill="#008000"/>
<rect x="320" y="266" width="1" height="27" fill="#008000"/>
<rect x="321" y="276" width="2" height="17" fill="#ff0000"/>
<rect x="322" y="269" width="1" height="29" fill="#ff0000"/>
<rect x="323" y="297" width="2" height="5" fill="#ff0000"/>
<rect x="324" y="296" width="1" height="12" fill="#ff0000"/>
<rect x="325" y="295" width="2" height="11" fill="#008000"/>
<rect x="326" y="290" width="1" height="23" fill="#008000"/>
<rect x="327" y="275" width="2" height="21" fill="#008000"/>
<rect x="328" y="275" width="1" height="27" fill="#008000"/>
<rect x="329" y="273" width="2" height="5" fill="#ff0000"/>
<rect x="330" y="265" width="1" height="19" fill="#ff0000"/>
<rect x="331" y="279" width="2" height="8" fill="#ff0000"/>
<rect x="332" y="276" width="1" height="13" fill="#ff0000"/>
<rect x="333" y="288" width="2" height="17" fill="#ff0000"/>
<rect x="334" y="285" width="1" height="21" fill="#ff0000"/>
<rect x="335" y="305" width="2" height="11" fill="#ff0000"/>
<rect x="336" y="298" width="1" height="29" fill="#ff0000"/>
<rect x="337" y="314" width="2" height="1" fill="#008000"/>
<rect x="338" y="307" width="1" height="8" fill="#008000"/>
<rect x="339" y="315" width="2" height="4" fill="#ff0000"/>
<rect x="340" y="308" width="1" height="15" fill="#ff0000"/>
<rect x="341" y="319" width="2" height="10" fill="#ff0000"/>
<rect x="342" y="315" width="1" height="19" fill="#ff0000"/>
<rect x="343" y="324" width="2" height="6" fill="#008000"/>
<rect x="344" y="319" width="1" height="11" fill="#008000"/>
<rect x="345" y="318" width="2" height="9" fill="#008000"/>
<rect x="346" y="311" width="1" height="18" fill="#008000"/>
<rect x="347" y="320" width="2" height="2" fill="#ff0000"/>
<rect x="348" y="315" width="1" height="14" fill="#ff0000"/>
<rect x="349" y="319" width="2" height="4" fill="#008000"/>
<rect x="350" y="313" width="1" height="11" fill="#008000"/>
<rect x="351" y="318" width="2" height="2" fill="#ff0000"/>
<rect x="352" y="311" width="1" height="16" fill="#ff0000"/>
<rect x="353" y="317" width="2" height="3" fill="#008000"/>
<rect x="354" y="313" width="1" height="14" fill="#008000"/>
<rect x="355" y="308" width="2" height="9" fill="#008000"/>
<rect x="356" y="301" width="1" height="22" fill="#008000"/>
<rect x="357" y="300" width="2" height="11" fill="#008000"/>
<rect x="358" y="295" width="1" height="19" fill="#008000"/>
<rect x="359" y="298" width="2" height="7" fill="#008000"/>
<rect x="360" y="294" width="1" height="14" fill="#008000"/>
<rect x="361" y="296" width="2" height="2" fill="#ff0000"/>
<rect x="362" y="295" width="1" height="11" fill="#ff0000"/>
<rect x="363" y="294" width="2" height="4" fill="#ff0000"/>
<rect x="364" y="287" width="1" height="16" fill="#ff0000"/>
<rect x="365" y="298" width="2" height="2" fill="#008000"/>
<rect x="366" y="291" width="1" height="11" fill="#008000"/>
<rect x="367" y="293" width="2" height="2" fill="#ff0000"/>
<rect x="368" y="292" width="1" height="2" fill="#ff0000"/>
<rect x="369" y="294" width="2" height="4" fill="#ff0000"/>
<rect x="370" y="293" width="1" height="8" fill="#ff0000"/>
<rect x="371" y="298" width="2" height="4" fill="#008000"/>
<rect x="372" y="291" width="1" height="14" fill="#008000"/>
<rect x="373" y="294" width="2" height="2" fill="#008000"/>
<rect x="374" y="292" width="1" height="7" fill="#008000"/>
<rect x="375" y="286" width="2" height="11" fill="#008000"/>
<rect x="376" y="279" width="1" height="19" fill="#008000"/>
<rect x="377" y="285" width="2" height="2" fill="#008000"/>
<rect x="378" y="283" width="1" height="6" fill="#008000"/>
<rect x="379" y="282" width="2" height="2" fill="#008000"/>
<rect x="380" y="275" width="1" height="16" fill="#008000"/>
<rect x="381" y="282" width="2" height="7" fill="#ff0000"/>
<rect x="382" y="277" width="1" height="17" fill="#ff0000"/>
<rect x="383" y="288" width="2" height="3" fill="#ff0000"/>
<rect x="384" y="281" width="1" height="13" fill="#ff0000"/>
<rect x="385" y="287" width="2" height="6" fill="#ff0000"/>
<rect x="386" y="286" width="1" height="13" fill="#ff0000"/>
<rect x="387" y="295" width="2" height="6" fill="#ff0000"/>
<rect x="388" y="295" width="1" height="13" fill="#ff0000"/>
<rect x="389" y="302" width="2" height="9" fill="#ff0000"/>
<rect x="390" y="299" width="1" height="18" fill="#ff0000"/>
<rect x="391" y="311" width="2" height="5" fill="#ff0000"/>
<rect x="392" y="311" width="1" height="10" fill="#ff0000"/>
<rect x="393" y="298" width="2" height="19" fill="#008000"/>
<rect x="394" y="292" width="1" height="29" fill="#008000"/>
<rect x="395" y="291" width="2" height="7" fill="#008000"/>
<rect x="396" y="287" width="1" height="13" fill="#008000"/>
<rect x="397" y="277" width="2" height="14" fill="#008000"/>
<rect x="398" y="274" width="1" height="21" fill="#008000"/>
<rect x="399" y="273" width="2" height="5" fill="#008000"/>
<rect x="400" y="266" width="1" height="19" fill="#008000"/>
<rect x="401" y="259" width="2" height="15" fill="#008000"/>
<rect x="402" y="256" width="1" height="25" fill="#008000"/>
<rect x="403" y="255" width="2" height="6" fill="#008000"/>
<rect x="404" y="251" width="1" height="13" fill="#008000"/>
<rect x="405" y="241" width="2" height="15" fill="#008000"/>
<rect x="406" y="239" width="1" height="22" fill="#008000"/>
<rect x="407" y="234" width="2" height="5" fill="#008000"/>
<rect x="408" y="231" width="1" height="15" fill="#008000"/>
<rect x="409" y="236" width="2" height="5" fill="#ff0000"/>
<rect x="410" y="235" width="1" height="8" fill="#ff0000"/>
<rect x="411" y="240" width="2" height="2" fill="#008000"/>
<rect x="412" y="233" width="1" height="16" fill="#008000"/>
<rect x="413" y="226" width="2" height="13" fill="#008000"/>
<rect x="414" y="219" width="1" height="22" fill="#008000"/>
<rect x="415" y="218" width="2" height="9" fill="#008000"/>
<rect x="416" y="211" width="1" height="17" fill="#008000"/>
<rect x="417" y="218" width="2" height="5" fill="#ff0000"/>
<rect x="418" y="218" width="1" height="13" fill="#ff0000"/>
<rect x="419" y="223" width="2" height="1" fill="#008000"/>
<rect x="420" y="221" width="1" height="10" fill="#008000"/>
<rect x="421" y="221" width="2" height="2" fill="#ff0000"/>
<rect x="422" y="214" width="1" height="16" fill="#ff0000"/>
<rect x="423" y="223" width="2" height="6" fill="#ff0000"/>
<rect x="424" y="221" width="1" height="11" fill="#ff0000"/>
<rect x="425" y="228" width="2" height="9" fill="#ff0000"/>
<rect x="426" y="228" width="1" height="14" fill="#ff0000"/>
<rect x="427" y="238" width="2" height="4" fill="#ff0000"/>
<rect x="428" y="235" width="1" height="13" fill="#ff0000"/>
<rect x="429" y="228" width="2" height="12" fill="#008000"/>
<rect x="430" y="227" width="1" height="17" fill="#008000"/>
<rect x="431" y="229" width="2" height="10" fill="#ff0000"/>
<rect x="432" y="227" width="1" height="13" fill="#ff0000"/>
<rect x="433" y="216" width="2" height="25" fill="#008000"/>
<rect x="434" y="212" width="1" height="46" fill="#008000"/>
<rect x="435" y="220" width="2" height="1" fill="#ff0000"/>
<rect x="436" y="213" width="1" height="13" fill="#ff0000"/>
<rect x="437" y="224" width="2" height="1" fill="#ff0000"/>
<rect x="438" y="222" width="1" height="11" fill="#ff0000"/>
<rect x="439" y="220" width="2" height="4" fill="#008000"/>
<rect x="440" y="216" width="1" height="11" fill="#008000"/>
<rect x="441" y="210" width="2" height="11" fill="#008000"/>
<rect x="442" y="206" width="1" height="19" fill="#008000"/>
<rect x="443" y="211" width="2" height="5" fill="#ff0000"/>
<rect x="444" y="204" width="1" height="19" fill="#ff0000"/>
<rect x="445" y="215" width="2" height="4" fill="#ff0000"/>
<rect x="446" y="208" width="1" height="18" fill="#ff0000"/>
<rect x="447" y="216" width="2" height="6" fill="#ff0000"/>
<rect x="448" y="212" width="1" height="16" fill="#ff0000"/>
<rect x="449" y="223" width="2" height="4" fill="#ff0000"/>
<rect x="450" y="221" width="1" height="13" fill="#ff0000"/>
<rect x="451" y="229" width="2" height="2" fill="#ff0000"/>
<rect x="452" y="223" width="1" height="12" fill="#ff0000"/>
<rect x="453" y="230" width="2" height="2" fill="#ff0000"/>
<rect x="454" y="223" width="1" height="9" fill="#ff0000"/>
<rect x="455" y="233" width="2" height="3" fill="#ff0000"/>
<rect x="456" y="226" width="1" height="17" fill="#ff0000"/>
<rect x="457" y="232" width="2" height="15" fill="#ff0000"/>
<rect x="458" y="230" width="1" height="19" fill="#ff0000"/>
<rect x="459" y="244" width="2" height="5" fill="#008000"/>
<rect x="460" y="241" width="1" height="15" fill="#008000"/>
<rect x="461" y="243" width="2" height="4" fill="#ff0000"/>
<rect x="462" y="236" width="1" height="18" fill="#ff0000"/>
<rect x="463" y="249" width="2" height="2" fill="#008000"/>
<rect x="464" y="242" width="1" height="14" fill="#008000"/>
<rect x="465" y="247" width="2" height="18" fill="#ff0000"/>
<rect x="466" y="246" width="1" height="20" fill="#ff0000"/>
<rect x="467" y="264" width="2" height="2" fill="#008000"/>
<rect x="468" y="257" width="1" height="10" fill="#008000"/>
<rect x="469" y="260" width="2" height="2" fill="#008000"/>
<rect x="470" y="254" width="1" height="18" fill="#008000"/>
<rect x="471" y="246" width="2" height="14" fill="#008000"/>
<rect x="472" y="239" width="1" height="28" fill="#008000"/>
<rect x="473" y="244" width="2" height="6" fill="#008000"/>
<rect x="474" y="242" width="1" height="15" fill="#008000"/>
<rect x="475" y="241" width="2" height="5" fill="#008000"/>
<rect x="476" y="237" width="1" height="12" fill="#008000"/>
<rect x="477" y="233" width="2" height="11" fill="#008000"/>
<rect x="478" y="232" width="1" height="14" fill="#008000"/>
<rect x="479" y="230" width="2" height="4" fill="#008000"/>
<rect x="480" y="223" width="1" height="15" fill="#008000"/>
<rect x="481" y="230" width="2" height="5" fill="#ff0000"/>
<rect x="482" y="225" width="1" height="13" fill="#ff0000"/>
<rect x="483" y="232" width="2" height="7" fill="#ff0000"/>
<rect x="484" y="228" width="1" height="12" fill="#ff0000"/>
<rect x="485" y="235" width="2" height="5" fill="#ff0000"/>
<rect x="486" y="234" width="1" height="7" fill="#ff0000"/>
<rect x="487" y="244" width="2" height="12" fill="#ff0000"/>
<rect x="488" y="244" width="1" height="12" fill="#ff0000"/>
<rect x="489" y="253" width="2" height="10" fill="#ff0000"/>
<rect x="490" y="253" width="1" height="11" fill="#ff0000"/>
<rect x="491" y="262" width="2" height="6" fill="#ff0000"/>
<rect x="492" y="262" width="1" height="8" fill="#ff0000"/>
<rect x="493" y="265" width="2" height="8" fill="#ff0000"/>
<rect x="494" y="264" width="1" height="10" fill="#ff0000"/>
<rect x="495" y="270" width="2" height="8" fill="#ff0000"/>
<rect x="496" y="270" width="1" height="8" fill="#ff0000"/>
<rect x="497" y="281" width="2" height="15" fill="#ff0000"/>
<rect x="498" y="280" width="1" height="23" fill="#ff0000"/>
<rect x="499" y="280" width="2" height="14" fill="#008000"/>
<rect x="500" y="277" width="1" height="18" fill="#008000"/>
<rect x="501" y="276" width="2" height="12" fill="#008000"/>
<rect x="502" y="272" width="1" height="18" fill="#008000"/>
<rect x="503" y="277" width="2" height="3" fill="#ff0000"/>
<rect x="504" y="274" width="1" height="10" fill="#ff0000"/>
<rect x="505" y="274" width="2" height="4" fill="#008000"/>
<rect x="506" y="272" width="1" height="14" fill="#008000"/>
<rect x="507" y="272" width="2" height="2" fill="#008000"/>
<rect x="508" y="267" width="1" height="9" fill="#008000"/>
<rect x="509" y="273" width="2" height="4" fill="#ff0000"/>
<rect x="510" y="266" width="1" height="18" fill="#ff0000"/>
<rect x="511" y="274" width="2" height="7" fill="#ff0000"/>
<rect x="512" y="274" width="1" height="8" fill="#ff0000"/>
<rect x="513" y="279" width="2" height="6" fill="#ff0000"/>
<rect x="514" y="274" width="1" height="18" fill="#ff0000"/>
<rect x="515" y="287" width="2" height="5" fill="#ff0000"/>
<rect x="516" y="286" width="1" height="11" fill="#ff0000"/>
<rect x="517" y="292" width="2" height="4" fill="#ff0000"/>
<rect x="518" y="285" width="1" height="24" fill="#ff0000"/>
<rect x="519" y="293" width="2" height="4" fill="#008000"/>
<rect x="520" y="292" width="1" height="5" fill="#008000"/>
<rect x="521" y="284" width="2" height="7" fill="#008000"/>
<rect x="522" y="281" width="1" height="13" fill="#008000"/>
<rect x="523" y="282" width="2" height="4" fill="#ff0000"/>
<rect x="524" y="283" width="1" height="9" fill="#ff0000"/>
<rect x="525" y="286" width="2" height="1" fill="#008000"/>
<rect x="526" y="279" width="1" height="15" fill="#008000"/>
<polyline points="0.0,415.0 19.5,414.1 32.5,413.3 48.8,413.3 65.0,414.1 84.6,414.5 100.0,415.6 105.6,415.9 119.3,418.8 134.9,420.7 148.5,420.1 168.0,420.7 181.7,420.1 190.5,418.6 206.3,414.5 227.4,407.9 245.8,396.1 258.9,386.8 272.1,376.3 285.3,368.4 301.7,360.0 315.4,351.2 329.0,341.5 344.6,331.7 358.3,323.9 372.0,317.1 380.0,313.5 393.0,307.0 401.7,304.8 412.5,298.3 423.3,292.9 434.1,289.6 445.0,286.4 455.8,283.1 466.6,279.9 477.5,275.6 488.6,271.3 494.2,269.9 507.2,269.5 514.6,269.1 525.8,269.9" fill="none" stroke="#ff0000" stroke-width="2" stroke-linejoin="round"/>
<polyline points="0.0,407.6 19.5,408.3 26.0,409.5 32.5,411.0 40.7,410.8 47.2,411.0 52.0,413.8 65.0,417.4 78.0,420.7 91.0,423.0 100.0,423.6 110.0,425.4 120.0,426.9 127.0,428.5 134.0,430.1 146.0,430.1 152.0,428.2 160.0,426.0 170.0,422.9 180.0,419.6 190.5,414.5 206.3,405.3 219.5,396.1 232.6,381.6 245.8,360.5 258.9,342.1 272.1,328.9 285.3,319.7 292.0,316.5 301.7,312.2 313.4,303.4 323.2,298.9 331.0,298.0 338.8,299.5 346.6,302.8 356.3,304.4 368.0,304.0 377.8,301.5 387.6,299.8 401.7,298.3 412.5,291.8 429.8,283.1 440.6,273.4 451.5,262.6 462.3,256.1 475.3,249.6 486.1,244.1 495.1,240.5 501.6,242.0 510.9,244.4 518.3,250.0 523.0,254.0 525.8,254.0" fill="none" stroke="#000" stroke-width="2" stroke-linejoin="round"/>
<rect x="389" y="298" width="172" height="22" fill="none" stroke="#0000ff" stroke-width="2"/>
<rect x="0" y="499" width="615" height="1" fill="#e3e3e3"/>
<rect x="0" y="500" width="615" height="1" fill="#ffffff"/>
<rect x="0" y="501" width="615" height="1" fill="#a0a0a0"/>
<rect x="0" y="502" width="615" height="1" fill="#696969"/>
<rect x="567" y="503" width="1" height="123" fill="#000"/>
<rect x="567" y="608" width="4" height="1" fill="#000"/>
<rect x="567" y="599" width="9" height="1" fill="#000"/>
<rect x="567" y="590" width="4" height="1" fill="#000"/>
<rect x="567" y="582" width="9" height="1" fill="#000"/>
<rect x="567" y="573" width="4" height="1" fill="#000"/>
<rect x="567" y="564" width="9" height="1" fill="#000"/>
<rect x="567" y="556" width="4" height="1" fill="#000"/>
<rect x="567" y="547" width="9" height="1" fill="#000"/>
<rect x="567" y="538" width="4" height="1" fill="#000"/>
<rect x="567" y="530" width="9" height="1" fill="#000"/>
<rect x="567" y="521" width="4" height="1" fill="#000"/>
<rect x="567" y="512" width="9" height="1" fill="#000"/>
<rect x="567" y="504" width="4" height="1" fill="#000"/>
<rect x="0" y="599" width="4" height="18" fill="#008000"/>
<rect x="4" y="598" width="2" height="19" fill="#008000"/>
<rect x="6" y="599" width="1" height="18" fill="#008000"/>
<rect x="7" y="581" width="2" height="36" fill="#008000"/>
<rect x="9" y="592" width="2" height="25" fill="#008000"/>
<rect x="11" y="600" width="2" height="17" fill="#008000"/>
<rect x="13" y="601" width="2" height="16" fill="#008000"/>
<rect x="15" y="593" width="2" height="24" fill="#008000"/>
<rect x="17" y="604" width="2" height="13" fill="#008000"/>
<rect x="19" y="602" width="2" height="15" fill="#008000"/>
<rect x="21" y="606" width="2" height="11" fill="#008000"/>
<rect x="23" y="601" width="2" height="16" fill="#008000"/>
<rect x="25" y="599" width="2" height="18" fill="#008000"/>
<rect x="27" y="602" width="2" height="15" fill="#008000"/>
<rect x="29" y="597" width="2" height="20" fill="#008000"/>
<rect x="31" y="593" width="2" height="24" fill="#008000"/>
<rect x="33" y="595" width="2" height="22" fill="#008000"/>
<rect x="35" y="602" width="2" height="15" fill="#008000"/>
<rect x="37" y="600" width="2" height="17" fill="#008000"/>
<rect x="39" y="602" width="2" height="15" fill="#008000"/>
<rect x="41" y="606" width="2" height="11" fill="#008000"/>
<rect x="43" y="595" width="2" height="22" fill="#008000"/>
<rect x="45" y="571" width="2" height="46" fill="#008000"/>
<rect x="47" y="582" width="2" height="35" fill="#008000"/>
<rect x="49" y="586" width="2" height="31" fill="#008000"/>
<rect x="51" y="583" width="2" height="34" fill="#008000"/>
<rect x="53" y="615" width="2" height="2" fill="#008000"/>
<rect x="55" y="588" width="2" height="29" fill="#008000"/>
<rect x="57" y="598" width="2" height="19" fill="#008000"/>
<rect x="59" y="594" width="2" height="23" fill="#008000"/>
<rect x="61" y="605" width="2" height="12" fill="#008000"/>
<rect x="63" y="601" width="2" height="16" fill="#008000"/>
<rect x="65" y="602" width="2" height="15" fill="#008000"/>
<rect x="67" y="601" width="1" height="16" fill="#008000"/>
<rect x="68" y="594" width="2" height="23" fill="#008000"/>
<rect x="70" y="600" width="2" height="17" fill="#008000"/>
<rect x="72" y="593" width="2" height="24" fill="#008000"/>
<rect x="74" y="591" width="2" height="26" fill="#008000"/>
<rect x="76" y="602" width="2" height="15" fill="#008000"/>
<rect x="78" y="604" width="2" height="13" fill="#008000"/>
<rect x="80" y="602" width="4" height="15" fill="#008000"/>
<rect x="84" y="598" width="2" height="19" fill="#008000"/>
<rect x="86" y="600" width="2" height="17" fill="#008000"/>
<rect x="88" y="605" width="2" height="12" fill="#008000"/>
<rect x="90" y="597" width="2" height="20" fill="#008000"/>
<rect x="92" y="594" width="4" height="23" fill="#008000"/>
<rect x="96" y="595" width="2" height="22" fill="#008000"/>
<rect x="98" y="604" width="2" height="13" fill="#008000"/>
<rect x="100" y="593" width="2" height="24" fill="#008000"/>
<rect x="102" y="594" width="2" height="23" fill="#008000"/>
<rect x="104" y="599" width="2" height="18" fill="#008000"/>
<rect x="106" y="595" width="2" height="22" fill="#008000"/>
<rect x="108" y="604" width="2" height="13" fill="#008000"/>
<rect x="110" y="581" width="2" height="36" fill="#008000"/>
<rect x="112" y="598" width="2" height="19" fill="#008000"/>
<rect x="114" y="596" width="4" height="21" fill="#008000"/>
<rect x="118" y="595" width="2" height="22" fill="#008000"/>
<rect x="120" y="600" width="4" height="17" fill="#008000"/>
<rect x="124" y="604" width="2" height="13" fill="#008000"/>
<rect x="126" y="601" width="4" height="16" fill="#008000"/>
<rect x="130" y="604" width="2" height="13" fill="#008000"/>
<rect x="132" y="601" width="2" height="16" fill="#008000"/>
<rect x="134" y="605" width="2" height="12" fill="#008000"/>
<rect x="136" y="600" width="2" height="17" fill="#008000"/>
<rect x="138" y="597" width="2" height="20" fill="#008000"/>
<rect x="140" y="603" width="2" height="14" fill="#008000"/>
<rect x="142" y="601" width="2" height="16" fill="#008000"/>
<rect x="144" y="593" width="2" height="24" fill="#008000"/>
<rect x="146" y="602" width="2" height="15" fill="#008000"/>
<rect x="148" y="589" width="2" height="28" fill="#008000"/>
<rect x="150" y="599" width="1" height="18" fill="#008000"/>
<rect x="151" y="594" width="2" height="23" fill="#008000"/>
<rect x="153" y="599" width="3" height="18" fill="#008000"/>
<rect x="156" y="601" width="2" height="16" fill="#008000"/>
<rect x="158" y="602" width="2" height="15" fill="#008000"/>
<rect x="160" y="575" width="2" height="42" fill="#008000"/>
<rect x="162" y="590" width="2" height="27" fill="#008000"/>
<rect x="164" y="585" width="2" height="32" fill="#008000"/>
<rect x="166" y="593" width="2" height="24" fill="#008000"/>
<rect x="168" y="573" width="2" height="44" fill="#008000"/>
<rect x="170" y="586" width="2" height="31" fill="#008000"/>
<rect x="172" y="557" width="2" height="60" fill="#008000"/>
<rect x="174" y="592" width="2" height="25" fill="#008000"/>
<rect x="176" y="587" width="2" height="30" fill="#008000"/>
<rect x="178" y="593" width="2" height="24" fill="#008000"/>
<rect x="180" y="562" width="2" height="55" fill="#008000"/>
<rect x="182" y="589" width="2" height="28" fill="#008000"/>
<rect x="184" y="593" width="2" height="24" fill="#008000"/>
<rect x="186" y="591" width="2" height="26" fill="#008000"/>
<rect x="188" y="587" width="2" height="30" fill="#008000"/>
<rect x="190" y="570" width="2" height="47" fill="#008000"/>
<rect x="192" y="555" width="2" height="62" fill="#008000"/>
<rect x="194" y="528" width="2" height="89" fill="#008000"/>
<rect x="196" y="579" width="2" height="38" fill="#008000"/>
<rect x="198" y="573" width="2" height="44" fill="#008000"/>
<rect x="200" y="559" width="2" height="58" fill="#008000"/>
<rect x="202" y="581" width="2" height="36" fill="#008000"/>
<rect x="204" y="560" width="2" height="57" fill="#008000"/>
<rect x="206" y="584" width="2" height="33" fill="#008000"/>
<rect x="208" y="583" width="2" height="34" fill="#008000"/>
<rect x="210" y="565" width="2" height="52" fill="#008000"/>
<rect x="212" y="589" width="2" height="28" fill="#008000"/>
<rect x="214" y="574" width="2" height="43" fill="#008000"/>
<rect x="216" y="582" width="2" height="35" fill="#008000"/>
<rect x="218" y="568" width="2" height="49" fill="#008000"/>
<rect x="220" y="572" width="4" height="45" fill="#008000"/>
<rect x="224" y="513" width="2" height="104" fill="#008000"/>
<rect x="226" y="566" width="2" height="51" fill="#008000"/>
<rect x="228" y="574" width="2" height="43" fill="#008000"/>
<rect x="230" y="557" width="2" height="60" fill="#008000"/>
<rect x="232" y="567" width="2" height="50" fill="#008000"/>
<rect x="234" y="555" width="2" height="62" fill="#008000"/>
<rect x="236" y="567" width="2" height="50" fill="#008000"/>
<rect x="238" y="579" width="2" height="38" fill="#008000"/>
<rect x="240" y="596" width="2" height="21" fill="#008000"/>
<rect x="242" y="592" width="2" height="25" fill="#008000"/>
<rect x="244" y="594" width="2" height="23" fill="#008000"/>
<rect x="246" y="573" width="2" height="44" fill="#008000"/>
<rect x="248" y="597" width="2" height="20" fill="#008000"/>
<rect x="250" y="586" width="2" height="31" fill="#008000"/>
<rect x="252" y="579" width="2" height="38" fill="#008000"/>
<rect x="254" y="573" width="2" height="44" fill="#008000"/>
<rect x="256" y="593" width="2" height="24" fill="#008000"/>
<rect x="258" y="595" width="2" height="22" fill="#008000"/>
<rect x="260" y="596" width="2" height="21" fill="#008000"/>
<rect x="262" y="597" width="2" height="20" fill="#008000"/>
<rect x="264" y="596" width="2" height="21" fill="#008000"/>
<rect x="266" y="588" width="2" height="29" fill="#008000"/>
<rect x="268" y="600" width="2" height="17" fill="#008000"/>
<rect x="270" y="593" width="2" height="24" fill="#008000"/>
<rect x="272" y="598" width="2" height="19" fill="#008000"/>
<rect x="274" y="590" width="2" height="27" fill="#008000"/>
<rect x="276" y="577" width="2" height="40" fill="#008000"/>
<rect x="278" y="591" width="2" height="26" fill="#008000"/>
<rect x="280" y="594" width="2" height="23" fill="#008000"/>
<rect x="282" y="593" width="4" height="24" fill="#008000"/>
<rect x="286" y="599" width="2" height="18" fill="#008000"/>
<rect x="288" y="597" width="2" height="20" fill="#008000"/>
<rect x="290" y="599" width="2" height="18" fill="#008000"/>
<rect x="292" y="575" width="2" height="42" fill="#008000"/>
<rect x="294" y="599" width="2" height="18" fill="#008000"/>
<rect x="296" y="588" width="2" height="29" fill="#008000"/>
<rect x="298" y="589" width="2" height="28" fill="#008000"/>
<rect x="300" y="591" width="2" height="26" fill="#008000"/>
<rect x="302" y="569" width="2" height="48" fill="#008000"/>
<rect x="304" y="568" width="2" height="49" fill="#008000"/>
<rect x="306" y="575" width="2" height="42" fill="#008000"/>
<rect x="308" y="588" width="2" height="29" fill="#008000"/>
<rect x="310" y="582" width="2" height="35" fill="#008000"/>
<rect x="312" y="569" width="2" height="48" fill="#008000"/>
<rect x="314" y="574" width="2" height="43" fill="#008000"/>
<rect x="316" y="595" width="2" height="22" fill="#008000"/>
<rect x="318" y="557" width="2" height="60" fill="#008000"/>
<rect x="320" y="586" width="4" height="31" fill="#008000"/>
<rect x="324" y="591" width="2" height="26" fill="#008000"/>
<rect x="326" y="562" width="2" height="55" fill="#008000"/>
<rect x="328" y="576" width="2" height="41" fill="#008000"/>
<rect x="330" y="577" width="2" height="40" fill="#008000"/>
<rect x="332" y="575" width="2" height="42" fill="#008000"/>
<rect x="334" y="556" width="2" height="61" fill="#008000"/>
<rect x="336" y="601" width="2" height="16" fill="#008000"/>
<rect x="338" y="595" width="2" height="22" fill="#008000"/>
<rect x="340" y="594" width="2" height="23" fill="#008000"/>
<rect x="342" y="597" width="2" height="20" fill="#008000"/>
<rect x="344" y="591" width="2" height="26" fill="#008000"/>
<rect x="346" y="596" width="2" height="21" fill="#008000"/>
<rect x="348" y="590" width="2" height="27" fill="#008000"/>
<rect x="350" y="595" width="2" height="22" fill="#008000"/>
<rect x="352" y="592" width="2" height="25" fill="#008000"/>
<rect x="354" y="584" width="2" height="33" fill="#008000"/>
<rect x="356" y="580" width="2" height="37" fill="#008000"/>
<rect x="358" y="579" width="2" height="38" fill="#008000"/>
<rect x="360" y="592" width="2" height="25" fill="#008000"/>
<rect x="362" y="586" width="2" height="31" fill="#008000"/>
<rect x="364" y="577" width="2" height="40" fill="#008000"/>
<rect x="366" y="591" width="2" height="26" fill="#008000"/>
<rect x="368" y="596" width="2" height="21" fill="#008000"/>
<rect x="370" y="594" width="2" height="23" fill="#008000"/>
<rect x="372" y="603" width="2" height="14" fill="#008000"/>
<rect x="374" y="591" width="2" height="26" fill="#008000"/>
<rect x="376" y="589" width="4" height="28" fill="#008000"/>
<rect x="380" y="600" width="2" height="17" fill="#008000"/>
<rect x="382" y="599" width="2" height="18" fill="#008000"/>
<rect x="384" y="581" width="2" height="36" fill="#008000"/>
<rect x="386" y="574" width="2" height="43" fill="#008000"/>
<rect x="388" y="604" width="2" height="13" fill="#008000"/>
<rect x="390" y="591" width="2" height="26" fill="#008000"/>
<rect x="392" y="595" width="2" height="22" fill="#008000"/>
<rect x="394" y="586" width="2" height="31" fill="#008000"/>
<rect x="396" y="576" width="2" height="41" fill="#008000"/>
<rect x="398" y="569" width="2" height="48" fill="#008000"/>
<rect x="400" y="579" width="2" height="38" fill="#008000"/>
<rect x="402" y="548" width="2" height="69" fill="#008000"/>
<rect x="404" y="559" width="2" height="58" fill="#008000"/>
<rect x="406" y="572" width="2" height="45" fill="#008000"/>
<rect x="408" y="587" width="2" height="30" fill="#008000"/>
<rect x="410" y="579" width="2" height="38" fill="#008000"/>
<rect x="412" y="591" width="2" height="26" fill="#008000"/>
<rect x="414" y="566" width="1" height="51" fill="#008000"/>
<rect x="415" y="540" width="2" height="77" fill="#008000"/>
<rect x="417" y="573" width="2" height="44" fill="#008000"/>
<rect x="419" y="591" width="2" height="26" fill="#008000"/>
<rect x="421" y="578" width="2" height="39" fill="#008000"/>
<rect x="423" y="585" width="2" height="32" fill="#008000"/>
<rect x="425" y="564" width="2" height="53" fill="#008000"/>
<rect x="427" y="577" width="3" height="40" fill="#008000"/>
<rect x="430" y="588" width="2" height="29" fill="#008000"/>
<rect x="432" y="578" width="2" height="39" fill="#008000"/>
<rect x="434" y="559" width="2" height="58" fill="#008000"/>
<rect x="436" y="588" width="2" height="29" fill="#008000"/>
<rect x="438" y="587" width="2" height="30" fill="#008000"/>
<rect x="440" y="582" width="2" height="35" fill="#008000"/>
<rect x="442" y="576" width="2" height="41" fill="#008000"/>
<rect x="444" y="585" width="2" height="32" fill="#008000"/>
<rect x="446" y="587" width="2" height="30" fill="#008000"/>
<rect x="448" y="596" width="2" height="21" fill="#008000"/>
<rect x="450" y="589" width="1" height="28" fill="#008000"/>
<rect x="451" y="574" width="2" height="43" fill="#008000"/>
<rect x="453" y="592" width="2" height="25" fill="#008000"/>
<rect x="455" y="588" width="4" height="29" fill="#008000"/>
<rect x="459" y="583" width="2" height="34" fill="#008000"/>
<rect x="461" y="593" width="2" height="24" fill="#008000"/>
<rect x="463" y="586" width="2" height="31" fill="#008000"/>
<rect x="465" y="569" width="2" height="48" fill="#008000"/>
<rect x="467" y="593" width="2" height="24" fill="#008000"/>
<rect x="469" y="595" width="2" height="22" fill="#008000"/>
<rect x="471" y="565" width="2" height="52" fill="#008000"/>
<rect x="473" y="599" width="2" height="18" fill="#008000"/>
<rect x="475" y="591" width="2" height="26" fill="#008000"/>
<rect x="477" y="598" width="1" height="19" fill="#008000"/>
<rect x="478" y="577" width="2" height="40" fill="#008000"/>
<rect x="480" y="586" width="2" height="31" fill="#008000"/>
<rect x="482" y="591" width="2" height="26" fill="#008000"/>
<rect x="484" y="593" width="2" height="24" fill="#008000"/>
<rect x="486" y="576" width="2" height="41" fill="#008000"/>
<rect x="488" y="583" width="2" height="34" fill="#008000"/>
<rect x="490" y="586" width="2" height="31" fill="#008000"/>
<rect x="492" y="584" width="2" height="33" fill="#008000"/>
<rect x="494" y="596" width="2" height="21" fill="#008000"/>
<rect x="496" y="567" width="2" height="50" fill="#008000"/>
<rect x="498" y="574" width="2" height="43" fill="#008000"/>
<rect x="500" y="590" width="2" height="27" fill="#008000"/>
<rect x="502" y="596" width="2" height="21" fill="#008000"/>
<rect x="504" y="601" width="2" height="16" fill="#008000"/>
<rect x="506" y="604" width="2" height="13" fill="#008000"/>
<rect x="508" y="596" width="2" height="21" fill="#008000"/>
<rect x="510" y="599" width="2" height="18" fill="#008000"/>
<rect x="512" y="593" width="2" height="24" fill="#008000"/>
<rect x="514" y="595" width="2" height="22" fill="#008000"/>
<rect x="516" y="574" width="2" height="43" fill="#008000"/>
<rect x="518" y="593" width="2" height="24" fill="#008000"/>
<rect x="520" y="597" width="2" height="20" fill="#008000"/>
<rect x="522" y="600" width="2" height="17" fill="#008000"/>
<rect x="524" y="591" width="2" height="26" fill="#008000"/>
<polyline points="0.0,599.7 5.2,599.0 8.5,598.8 11.1,597.7 26.0,597.7 28.0,598.6 41.6,598.1 44.2,598.8 47.5,596.8 55.9,596.7 57.9,595.8 67.6,595.5 75.4,595.1 78.0,595.4 80.0,595.4 80.0,595.1 82.0,595.1 83.9,596.4 87.8,598.4 90.4,599.7 93.0,599.7 95.6,598.8 103.4,598.8 106.0,597.7 117.7,597.7 120.3,596.7 129.4,596.7 132.0,597.7 135.9,598.8 155.4,598.8 158.0,599.7 160.0,599.7 160.0,600.4 169.3,595.7 176.7,591.1 184.2,588.8 192.5,585.9 197.2,579.9 206.5,575.3 213.9,575.3 223.2,572.9 227.8,567.8 231.6,566.5 236.2,567.8 241.8,571.0 249.2,573.4 254.8,573.4 260.0,575.3 262.8,576.6 265.6,581.8 270.2,585.9 274.9,590.1 284.2,590.5 291.6,592.4 301.8,592.4 308.3,589.2 315.8,586.4 323.2,584.0 330.6,580.9 337.1,578.1 340.9,578.1 345.5,580.9 352.9,582.7 360.0,585.1 364.6,585.1 369.3,587.7 375.8,591.1 379.5,590.1 383.2,592.0 387.9,590.1 399.0,589.6 406.5,585.9 413.9,582.7 417.6,578.1 425.1,576.6 431.6,574.7 435.3,572.9 439.9,574.3 444.6,577.7 450.0,579.0 453.7,579.6 456.5,581.8 463.0,583.1 470.4,584.0 474.2,585.9 485.3,586.8 489.0,585.9 495.5,585.9 499.3,584.9 503.0,585.5 509.5,588.7 516.9,588.8 521.6,589.8 525.8,590.1" fill="none" stroke="#ff0000" stroke-width="2" stroke-linejoin="round"/>
<rect x="569" y="613" width="29" height="1" fill="#000"/>
<rect x="569" y="613" width="1" height="13" fill="#000"/>
<rect x="597" y="613" width="1" height="13" fill="#000"/>
<rect x="0" y="626" width="567" height="1" fill="#000"/>
<rect x="10" y="626" width="1" height="5" fill="#000"/>
<rect x="20" y="626" width="1" height="5" fill="#000"/>
<rect x="30" y="626" width="1" height="5" fill="#000"/>
<rect x="40" y="626" width="1" height="5" fill="#000"/>
<rect x="50" y="626" width="1" height="5" fill="#000"/>
<rect x="58" y="626" width="1" height="5" fill="#000"/>
<rect x="67" y="626" width="1" height="5" fill="#000"/>
<rect x="77" y="626" width="1" height="5" fill="#000"/>
<rect x="91" y="626" width="1" height="5" fill="#000"/>
<rect x="101" y="626" width="1" height="5" fill="#000"/>
<rect x="111" y="626" width="1" height="5" fill="#000"/>
<rect x="131" y="626" width="1" height="5" fill="#000"/>
<rect x="140" y="626" width="1" height="5" fill="#000"/>
<rect x="150" y="626" width="1" height="5" fill="#000"/>
<rect x="160" y="626" width="1" height="5" fill="#000"/>
<rect x="170" y="626" width="1" height="5" fill="#000"/>
<rect x="180" y="626" width="1" height="5" fill="#000"/>
<rect x="190" y="626" width="1" height="5" fill="#000"/>
<rect x="200" y="626" width="1" height="5" fill="#000"/>
<rect x="209" y="626" width="1" height="5" fill="#000"/>
<rect x="219" y="626" width="1" height="5" fill="#000"/>
<rect x="229" y="626" width="1" height="5" fill="#000"/>
<rect x="239" y="626" width="1" height="5" fill="#000"/>
<rect x="255" y="626" width="1" height="5" fill="#000"/>
<rect x="265" y="626" width="1" height="5" fill="#000"/>
<rect x="274" y="626" width="1" height="5" fill="#000"/>
<rect x="284" y="626" width="1" height="5" fill="#000"/>
<rect x="294" y="626" width="1" height="5" fill="#000"/>
<rect x="304" y="626" width="1" height="5" fill="#000"/>
<rect x="314" y="626" width="1" height="5" fill="#000"/>
<rect x="324" y="626" width="1" height="5" fill="#000"/>
<rect x="343" y="626" width="1" height="5" fill="#000"/>
<rect x="353" y="626" width="1" height="5" fill="#000"/>
<rect x="363" y="626" width="1" height="5" fill="#000"/>
<rect x="383" y="626" width="1" height="5" fill="#000"/>
<rect x="393" y="626" width="1" height="5" fill="#000"/>
<rect x="403" y="626" width="1" height="5" fill="#000"/>
<rect x="412" y="626" width="1" height="5" fill="#000"/>
<rect x="428" y="626" width="1" height="5" fill="#000"/>
<rect x="438" y="626" width="1" height="5" fill="#000"/>
<rect x="448" y="626" width="1" height="5" fill="#000"/>
<rect x="468" y="626" width="1" height="5" fill="#000"/>
<rect x="478" y="626" width="1" height="5" fill="#000"/>
<rect x="497" y="626" width="1" height="5" fill="#000"/>
<rect x="507" y="626" width="1" height="5" fill="#000"/>
<rect x="517" y="626" width="1" height="5" fill="#000"/>
<rect x="527" y="626" width="1" height="5" fill="#000"/>
<rect x="537" y="626" width="1" height="5" fill="#000"/>
<rect x="547" y="626" width="1" height="5" fill="#000"/>
<rect x="556" y="626" width="1" height="5" fill="#000"/>
<rect x="566" y="626" width="1" height="6" fill="#000"/>
<rect x="0" y="626" width="1" height="20" fill="#000"/>
<rect x="42" y="626" width="1" height="20" fill="#000"/>
<rect x="81" y="626" width="1" height="20" fill="#000"/>
<rect x="121" y="626" width="1" height="20" fill="#000"/>
<rect x="162" y="626" width="1" height="20" fill="#000"/>
<rect x="207" y="626" width="1" height="20" fill="#000"/>
<rect x="249" y="626" width="1" height="20" fill="#000"/>
<rect x="288" y="626" width="1" height="20" fill="#000"/>
<rect x="334" y="626" width="1" height="20" fill="#000"/>
<rect x="373" y="626" width="1" height="20" fill="#000"/>
<rect x="418" y="626" width="1" height="20" fill="#000"/>
<rect x="458" y="626" width="1" height="20" fill="#000"/>
<rect x="487" y="626" width="1" height="20" fill="#000"/>
<rect x="531" y="626" width="1" height="20" fill="#000"/>
<rect x="568" y="627" width="47" height="19" fill="#f8f8f8"/>
<rect x="569" y="628" width="46" height="18" fill="#f0f0f0"/>
<rect x="572" y="275" width="43" height="16" fill="#000"/>
</g>
<g>
<text x="613.9300000000001" y="42.7" font-size="12" text-anchor="end" fill="#000" letter-spacing="0.33">50</text>
<text x="613.9300000000001" y="109.7" font-size="12" text-anchor="end" fill="#000" letter-spacing="0.33">1000</text>
<text x="613.9300000000001" y="129.7" font-size="12" text-anchor="end" fill="#000" letter-spacing="0.33">500</text>
<text x="613.9300000000001" y="148.7" font-size="12" text-anchor="end" fill="#000" letter-spacing="0.33">0</text>
<text x="613.9300000000001" y="167.7" font-size="12" text-anchor="end" fill="#000" letter-spacing="0.33">-500</text>
<text x="613.9300000000001" y="492.7" font-size="12" text-anchor="end" fill="#000" letter-spacing="0.33">13000</text>
<text x="613.9300000000001" y="476.7" font-size="12" text-anchor="end" fill="#000" letter-spacing="0.33">14000</text>
<text x="613.9300000000001" y="459.7" font-size="12" text-anchor="end" fill="#000" letter-spacing="0.33">15000</text>
<text x="613.9300000000001" y="443.7" font-size="12" text-anchor="end" fill="#000" letter-spacing="0.33">16000</text>
<text x="613.9300000000001" y="426.7" font-size="12" text-anchor="end" fill="#000" letter-spacing="0.33">17000</text>
<text x="613.9300000000001" y="410.7" font-size="12" text-anchor="end" fill="#000" letter-spacing="0.33">18000</text>
<text x="613.9300000000001" y="393.7" font-size="12" text-anchor="end" fill="#000" letter-spacing="0.33">19000</text>
<text x="613.9300000000001" y="377.7" font-size="12" text-anchor="end" fill="#000" letter-spacing="0.33">20000</text>
<text x="613.9300000000001" y="360.7" font-size="12" text-anchor="end" fill="#000" letter-spacing="0.33">21000</text>
<text x="613.9300000000001" y="343.7" font-size="12" text-anchor="end" fill="#000" letter-spacing="0.33">22000</text>
<text x="613.9300000000001" y="327.7" font-size="12" text-anchor="end" fill="#000" letter-spacing="0.33">23000</text>
<text x="613.9300000000001" y="310.7" font-size="12" text-anchor="end" fill="#000" letter-spacing="0.33">24000</text>
<text x="613.9300000000001" y="294.7" font-size="12" text-anchor="end" fill="#000" letter-spacing="0.33">25000</text>
<text x="613.9300000000001" y="277.7" font-size="12" text-anchor="end" fill="#000" letter-spacing="0.33">26000</text>
<text x="613.9300000000001" y="261.7" font-size="12" text-anchor="end" fill="#000" letter-spacing="0.33">27000</text>
<text x="613.9300000000001" y="244.7" font-size="12" text-anchor="end" fill="#000" letter-spacing="0.33">28000</text>
<text x="613.9300000000001" y="228.7" font-size="12" text-anchor="end" fill="#000" letter-spacing="0.33">29000</text>
<text x="613.9300000000001" y="211.7" font-size="12" text-anchor="end" fill="#000" letter-spacing="0.33">30000</text>
<text x="613.9300000000001" y="195.7" font-size="12" text-anchor="end" fill="#000" letter-spacing="0.33">31000</text>
<text x="613.9300000000001" y="604.7" font-size="12" text-anchor="end" fill="#000" letter-spacing="0.33">10000</text>
<text x="613.9300000000001" y="587.7" font-size="12" text-anchor="end" fill="#000" letter-spacing="0.33">20000</text>
<text x="613.9300000000001" y="569.7" font-size="12" text-anchor="end" fill="#000" letter-spacing="0.33">30000</text>
<text x="613.9300000000001" y="552.7" font-size="12" text-anchor="end" fill="#000" letter-spacing="0.33">40000</text>
<text x="613.9300000000001" y="535.7" font-size="12" text-anchor="end" fill="#000" letter-spacing="0.33">50000</text>
<text x="613.9300000000001" y="517.7" font-size="12" text-anchor="end" fill="#000" letter-spacing="0.33">60000</text>
<text x="613.9300000000001" y="621.5" font-size="12" text-anchor="end" fill="#000" letter-spacing="0.33">0</text>
<text x="571" y="622.7" font-size="10" text-anchor="start" fill="#000" letter-spacing="-0.5">x1000</text>
<text x="2.0" y="642.7" font-size="12" text-anchor="start" fill="#000" letter-spacing="-0.3">Mar</text>
<text x="44.0" y="642.7" font-size="12" text-anchor="start" fill="#000" letter-spacing="-0.3">Apr</text>
<text x="83.0" y="642.7" font-size="12" text-anchor="start" fill="#000" letter-spacing="-0.3">May</text>
<text x="123.0" y="642.7" font-size="12" text-anchor="start" fill="#000" letter-spacing="0.1">Jun</text>
<text x="164.0" y="642.7" font-size="12" text-anchor="start" fill="#000" letter-spacing="0.1">Jul</text>
<text x="209.0" y="642.7" font-size="12" text-anchor="start" fill="#000" letter-spacing="0.1">Aug</text>
<text x="251.0" y="642.7" font-size="12" text-anchor="start" fill="#000" letter-spacing="0.1">Sep</text>
<text x="290.0" y="642.7" font-size="12" text-anchor="start" fill="#000" letter-spacing="-0.3">Oct</text>
<text x="336.0" y="642.7" font-size="12" text-anchor="start" fill="#000" letter-spacing="-0.3">Nov</text>
<text x="375.0" y="642.7" font-size="12" text-anchor="start" fill="#000" letter-spacing="0.1">Dec</text>
<text x="420.0" y="642.7" font-size="12" text-anchor="start" fill="#000" letter-spacing="0.1">2026</text>
<text x="460.0" y="642.7" font-size="12" text-anchor="start" fill="#000" letter-spacing="0.1">Feb</text>
<text x="489.0" y="642.7" font-size="12" text-anchor="start" fill="#000" letter-spacing="-0.3">Mar</text>
<text x="533.0" y="642.7" font-size="12" text-anchor="start" fill="#000" letter-spacing="-0.3">Apr</text>
<text x="573" y="287.4" font-size="11" fill="#00ff00" letter-spacing="-0.19">25300.00</text>
</g>
</svg>
</body></html>
